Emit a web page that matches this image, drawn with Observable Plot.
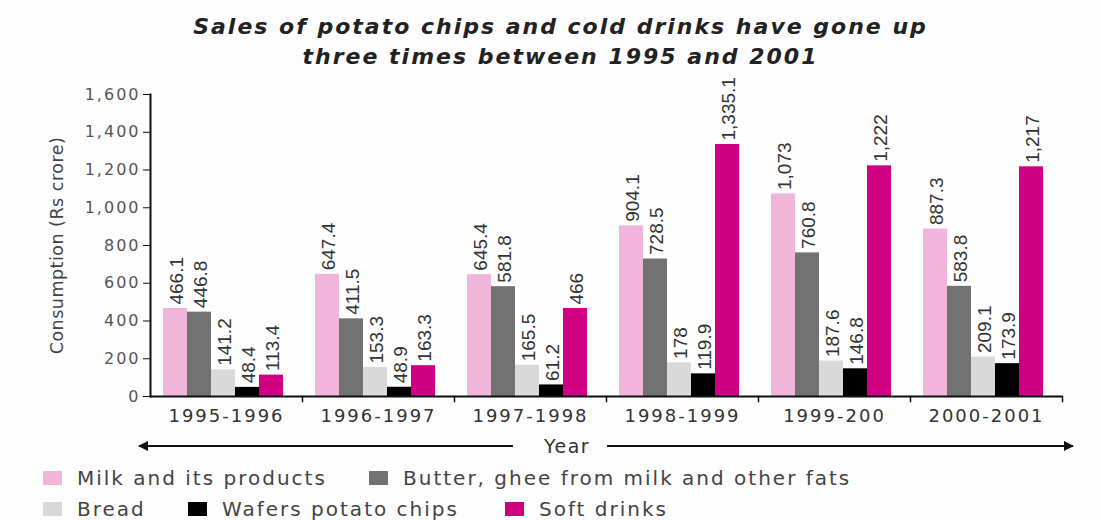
<!DOCTYPE html>
<html>
<head>
<meta charset="utf-8">
<script src="https://cdn.jsdelivr.net/npm/d3@7"></script>
<script src="https://cdn.jsdelivr.net/npm/@observablehq/plot@0.6"></script>
<style>
  html, body { margin: 0; padding: 0; background: #fdfdfd; }
  #wrap { position: relative; width: 1101px; height: 520px; overflow: hidden; font-family: "DejaVu Sans", sans-serif; }
  #title { position: absolute; top: 12px; left: 10px; width: 1101px; text-align: center;
    font-family: "DejaVu Sans", sans-serif; font-weight: bold; font-style: oblique;
    font-size: 22px; line-height: 30px; letter-spacing: 2px; color: #222; }
  #chart { position: absolute; top: 75px; left: 0; }
  #yearrow { position: absolute; top: 434px; left: 0; width: 1101px; height: 24px; }
  .leg { position: absolute; display: flex; align-items: center; font-size: 20px; letter-spacing: 2px; color: #444; white-space: nowrap; }
  .sw { display: inline-block; width: 19px; height: 14px; margin-right: 15px; }
  svg g[aria-label="y-axis tick label"] { fill: #555; letter-spacing: 2px; }
  svg g[aria-label="fx-axis tick label"] { fill: #333; letter-spacing: 2px; }
  svg g[aria-label="y-axis label"] { fill: #444; font-size: 17.5px; letter-spacing: 0.5px; }
</style>
</head>
<body>
<div id="wrap">
  <div id="title">Sales of potato chips and cold drinks have gone up<br>three times between 1995 and 2001</div>
  <div id="chart"></div>
  <div id="yearrow"></div>
  <div id="legend"></div>
</div>
<script>
const years = ["1995-1996", "1996-1997", "1997-1998", "1998-1999", "1999-200", "2000-2001"];
const series = ["Milk and its products", "Butter, ghee from milk and other fats", "Bread", "Wafers potato chips", "Soft drinks"];
const milk = [466.1, 647.4, 645.4, 904.1, 1073, 887.3];
const butter = [446.8, 411.5, 581.8, 728.5, 760.8, 583.8];
const bread = [141.2, 153.3, 165.5, 178, 187.6, 209.1];
const wafers = [48.4, 48.9, 61.2, 119.9, 146.8, 173.9];
const softDrinks = [113.4, 163.3, 466, 1335.1, 1222, 1217];
const yTicks = [0, 200, 400, 600, 800, 1000, 1200, 1400, 1600];
const colors = ["#f1b5dc", "#727272", "#d9d9d9", "#000000", "#cc0080"];

const values = [milk, butter, bread, wafers, softDrinks];
const data = years.flatMap((yr, i) => series.map((s, j) => ({year: yr, series: s, value: values[j][i]})));
const fmt = d3.format(",");

const chart = Plot.plot({
  width: 1101,
  height: 355,
  marginLeft: 150,
  marginRight: 39,
  marginTop: 19,
  marginBottom: 34,
  style: {fontFamily: "DejaVu Sans, sans-serif", background: "transparent", overflow: "visible"},
  fx: {domain: years, padding: 0, axis: null},
  x: {domain: series, paddingInner: 0, paddingOuter: 0.64, align: 0.42, axis: null},
  y: {domain: [0, 1600], axis: null},
  color: {domain: series, range: colors},
  marks: [
    Plot.barY(data, {fx: "year", x: "series", y: "value", fill: "series"}),
    Plot.text(data, {fx: "year", x: "series", y: "value", text: d => fmt(d.value),
      rotate: -90, textAnchor: "start", dy: -4, dx: 1, fontSize: 19,
      fontFamily: "Liberation Sans, Arial, sans-serif", fill: "#333"}),
    Plot.ruleY([0], {strokeWidth: 2, stroke: "#111"}),
    Plot.frame({anchor: "right", insetTop: 302, insetBottom: -5, stroke: "#111", strokeWidth: 1.5}),
    Plot.frame({anchor: "left", facetAnchor: "left", stroke: "#111", strokeWidth: 2}),
    Plot.axisY({ticks: yTicks, tickFormat: d => fmt(d), tickSize: 7, tickPadding: 3, fontSize: 16,
      label: "Consumption (Rs crore)", labelAnchor: "center", labelArrow: "none", labelOffset: 100, stroke: "#111"}),
    Plot.axisFx({anchor: "bottom", tickSize: 0, tickPadding: 13, fontSize: 18, label: null})
  ]
});
document.getElementById("chart").appendChild(chart);

// Year arrow row (decoration)
document.getElementById("yearrow").innerHTML = `
<svg width="1101" height="24">
  <defs>
    <marker id="ah" viewBox="0 0 10 10" refX="9" refY="5" markerWidth="5" markerHeight="5" orient="auto-start-reverse">
      <path d="M0,0 L10,5 L0,10 z" fill="#111"/>
    </marker>
  </defs>
  <line x1="513" y1="12" x2="139" y2="12" stroke="#111" stroke-width="2" marker-end="url(#ah)"/>
  <line x1="607" y1="12" x2="1073" y2="12" stroke="#111" stroke-width="2" marker-end="url(#ah)"/>
  <text x="567" y="19" text-anchor="middle" font-family="DejaVu Sans" font-size="19" letter-spacing="1.5" fill="#333">Year</text>
</svg>`;

// Legend
const legendPos = [
  {left: 43, top: 472}, {left: 369, top: 472},
  {left: 43, top: 503}, {left: 188, top: 503}, {left: 505, top: 503}
];
const legend = document.getElementById("legend");
series.forEach((s, i) => {
  const div = document.createElement("div");
  div.className = "leg";
  div.style.left = legendPos[i].left + "px";
  div.style.top = (legendPos[i].top - 6) + "px";
  div.innerHTML = `<span class="sw" style="background:${colors[i]}"></span><span>${s}</span>`;
  legend.appendChild(div);
});
</script>
</body>
</html>
